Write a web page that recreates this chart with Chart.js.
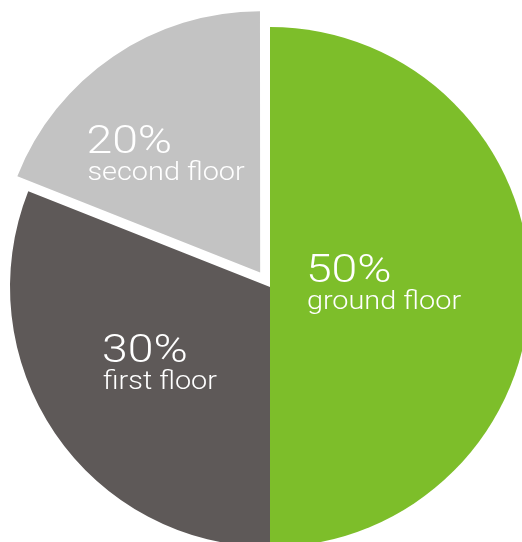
<!DOCTYPE html>
<html>
<head>
  <meta charset="utf-8" />
  <title>Floor share pie</title>
  <script src="https://cdn.jsdelivr.net/npm/chart.js"></script>
  <style>
    html, body { margin: 0; padding: 0; background: #fff; overflow: hidden; }
    #wrap { position: absolute; left: -30px; top: -13px; width: 600px; height: 600px; }
  </style>
</head>
<body>
  <div id="wrap"><canvas id="floorChart"></canvas></div>

  <script>
    // slices, clockwise from 12 o'clock
    const floors = ['ground floor', 'first floor', 'second floor'];
    const shares = [50, 31, 19];               // as drawn in the picture
    const pctLabels = ['50%', '30%', '20%'];   // as printed on the slices
    const sliceColors = ['#7dbe2a', '#5e5958', '#c3c3c3'];
    const sliceOffsets = [0, 0, 70];           // only the second floor is pulled out

    // label anchor (left edge, baseline of the big number) in units of the radius, from the centre
    const labelAnchor = [[0.138, -0.021], [-0.646, 0.287], [-0.706, -0.515]];

    const sliceLabels = {
      id: 'sliceLabels',
      afterDatasetsDraw(chart) {
        const ctx = chart.ctx;
        const meta = chart.getDatasetMeta(0);
        meta.data.forEach((arc, i) => {
          const { x, y, outerRadius } = arc.getProps(['x', 'y', 'outerRadius'], true);
          const px = x + labelAnchor[i][0] * outerRadius;
          const py = y + labelAnchor[i][1] * outerRadius;
          ctx.save();
          ctx.fillStyle = '#ffffff';
          ctx.textAlign = 'left';
          ctx.textBaseline = 'alphabetic';

          ctx.save();
          ctx.translate(px, py);
          ctx.scale(1.22, 1);
          ctx.font = '300 38px Roboto, "Liberation Sans", sans-serif';
          ctx.fillText(pctLabels[i], 0, 0);
          ctx.restore();

          ctx.translate(px + 1, py + 27);
          ctx.scale(1.11, 1);
          ctx.font = '300 26px Roboto, "Liberation Sans", sans-serif';
          ctx.fillText(floors[i], 0, 0);
          ctx.restore();
        });
      }
    };

    function draw() {
      const ctx = document.getElementById('floorChart').getContext('2d');
      new Chart(ctx, {
        type: 'pie',
        data: {
          labels: floors,
          datasets: [{
            data: shares,
            backgroundColor: sliceColors,
            borderWidth: 0,
            offset: sliceOffsets,
            radius: 260
          }]
        },
        options: {
          responsive: true,
          maintainAspectRatio: false,
          animation: false,
          layout: { padding: 0 },
          plugins: {
            legend: { display: false },
            tooltip: { enabled: false }
          }
        },
        plugins: [sliceLabels]
      });
    }

    document.fonts.load('300 38px Roboto').then(draw, draw);
  </script>
</body>
</html>
